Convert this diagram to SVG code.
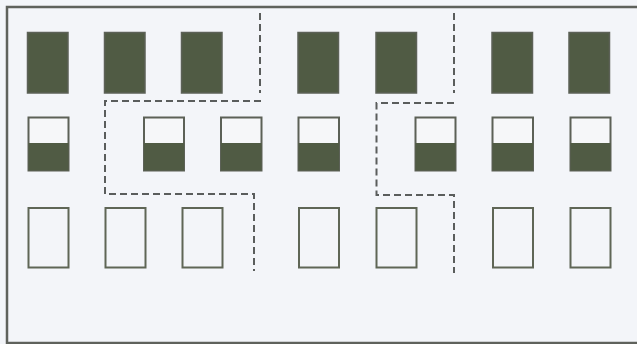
<svg xmlns="http://www.w3.org/2000/svg" width="637" height="344" viewBox="0 0 637 344">
<style>
.bg{fill:#f3f5f9}
.frame{fill:none;stroke:#5f625c;stroke-width:2.5}
.full{fill:#505b44;stroke:#5c6157;stroke-width:1.5}
.half{fill:#f6f7f9;stroke:#5c6157;stroke-width:2}
.halffill{fill:#505b44}
.empty{fill:none;stroke:#5f6656;stroke-width:2}
.dash{fill:none;stroke:#5a5d5c;stroke-width:2;stroke-dasharray:7 4}
</style>
<rect class="bg" x="0" y="0" width="637" height="344"/>
<rect class="frame" x="7" y="7" width="632" height="336"/>
<g id="row1">
<g id="a1"><rect class="full" x="27.5" y="32.5" width="40.5" height="60.5"/></g>
<g id="a2"><rect class="full" x="104.5" y="32.5" width="40.5" height="60.5"/></g>
<g id="a3"><rect class="full" x="181.5" y="32.5" width="40.5" height="60.5"/></g>
<g id="a4"><rect class="full" x="298" y="32.5" width="40.5" height="60.5"/></g>
<g id="a5"><rect class="full" x="376" y="32.5" width="40.5" height="60.5"/></g>
<g id="a6"><rect class="full" x="492" y="32.5" width="40.5" height="60.5"/></g>
<g id="a7"><rect class="full" x="569" y="32.5" width="40.5" height="60.5"/></g>
</g>
<g id="row2">
<g id="b1"><rect class="half" x="28.5" y="117.5" width="40" height="53"/><rect class="halffill" x="28.5" y="143" width="40" height="27.5"/></g>
<g id="b2"><rect class="half" x="144" y="117.5" width="40" height="53"/><rect class="halffill" x="144" y="143" width="40" height="27.5"/></g>
<g id="b3"><rect class="half" x="221" y="117.5" width="40.5" height="53"/><rect class="halffill" x="221" y="143" width="40.5" height="27.5"/></g>
<g id="b4"><rect class="half" x="298.5" y="117.5" width="40.5" height="53"/><rect class="halffill" x="298.5" y="143" width="40.5" height="27.5"/></g>
<g id="b5"><rect class="half" x="415.5" y="117.5" width="40" height="53"/><rect class="halffill" x="415.5" y="143" width="40" height="27.5"/></g>
<g id="b6"><rect class="half" x="492.5" y="117.5" width="40.5" height="53"/><rect class="halffill" x="492.5" y="143" width="40.5" height="27.5"/></g>
<g id="b7"><rect class="half" x="570.5" y="117.5" width="40" height="53"/><rect class="halffill" x="570.5" y="143" width="40" height="27.5"/></g>
</g>
<g id="row3">
<g id="c1"><rect class="empty" x="28.5" y="208" width="40" height="59.5"/></g>
<g id="c2"><rect class="empty" x="105.5" y="208" width="40" height="59.5"/></g>
<g id="c3"><rect class="empty" x="182.5" y="208" width="40" height="59.5"/></g>
<g id="c4"><rect class="empty" x="299" y="208" width="40" height="59.5"/></g>
<g id="c5"><rect class="empty" x="376.5" y="208" width="40" height="59.5"/></g>
<g id="c6"><rect class="empty" x="493" y="208" width="40" height="59.5"/></g>
<g id="c7"><rect class="empty" x="570.5" y="208" width="40" height="59.5"/></g>
</g>
<g id="connectors">
<path class="dash" d="M260,13 V93 M261,101 H105 V194 H254 V271"/>
<path class="dash" d="M454,13 V93 M454,103 H376.5 V195 H454 V273"/>
</g>
</svg>
